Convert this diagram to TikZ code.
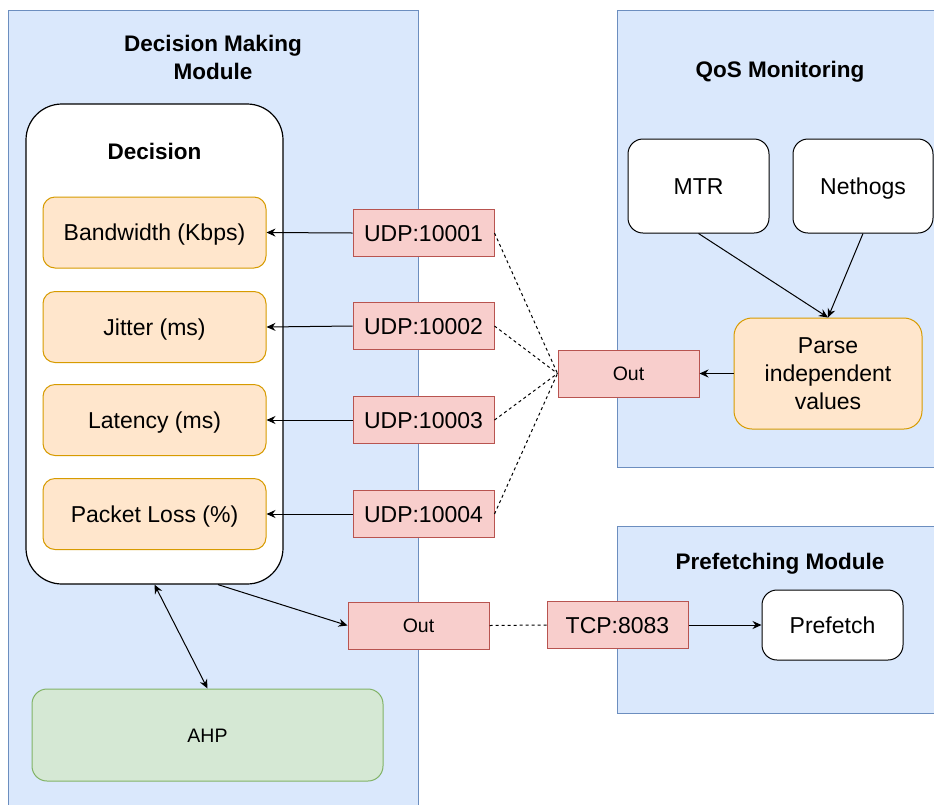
\documentclass[tikz,border=0pt]{standalone}
\usepackage{fontspec}
\setmainfont{Liberation Sans}
\usetikzlibrary{arrows.meta,calc}

\definecolor{modfill}{HTML}{DAE8FC}
\definecolor{moddraw}{HTML}{6C8EBF}
\definecolor{valfill}{HTML}{FFE6CC}
\definecolor{valdraw}{HTML}{D79B00}
\definecolor{portfill}{HTML}{F8CECC}
\definecolor{portdraw}{HTML}{B85450}
\definecolor{ahpfill}{HTML}{D5E8D4}
\definecolor{ahpdraw}{HTML}{82B366}

\tikzset{
  txt/.style={font=\fontsize{23}{28}\selectfont, inner sep=0pt, align=center},
  oneline/.style={text height=16.5pt, text depth=0pt},
  smalltxt/.style={font=\fontsize{19.5}{24}\selectfont, inner sep=0pt, align=center,
    text height=14pt, text depth=0pt},
  title/.style={font=\fontsize{22.5}{28}\selectfont\bfseries, inner sep=0pt, align=center},
  onetitle/.style={title, text height=16.1pt, text depth=0pt},
  module/.style={fill=modfill, draw=moddraw, line width=1pt},
  valbox/.style={txt, oneline, rectangle, rounded corners=12pt, fill=valfill, draw=valdraw, line width=1pt,
    minimum width=223pt, minimum height=71pt},
  portbox/.style={txt, oneline, rectangle, fill=portfill, draw=portdraw, line width=1pt,
    minimum width=141pt, minimum height=47pt},
  outbox/.style={portbox, smalltxt},
  toolbox/.style={txt, oneline, rectangle, rounded corners=15pt, fill=white, draw=black, line width=1pt},
  arr/.style={-{Stealth[length=9pt,width=8pt,inset=3pt]}, line width=1pt},
  dualarr/.style={{Stealth[length=9pt,width=8pt,inset=3pt]}-{Stealth[length=9pt,width=8pt,inset=3pt]}, line width=1pt},
  dashline/.style={line width=1pt, dash pattern=on 3pt off 3pt},
}

\begin{document}
\begin{tikzpicture}[x=1pt, y=-1pt]
  \clip (0,0) rectangle (934,804);
  \fill[white] (0,0) rectangle (934,804);

  % module containers
  \draw[module] (8,10) rectangle (418,810);
  \draw[module] (617,10) rectangle (940,467);
  \draw[module] (617,526) rectangle (940,713);

  % module titles
  \node[title] (dmtitle) at (213,57) {Decision Making\\Module};
  \node[onetitle] (qostitle) at (780,69) {QoS Monitoring};
  \node[onetitle] (pftitle) at (780,561) {Prefetching Module};

  % decision block
  \node[draw=black, fill=white, rounded corners=36pt, line width=1.2pt,
        minimum width=257pt, minimum height=480pt, inner sep=0pt] (decision) at (154.5,344) {};
  \node[onetitle] (dectitle) at (154.5,151.5) {Decision};

  \node[valbox] (bw)  at (154.5,232.5) {Bandwidth (Kbps)};
  \node[valbox] (jit) at (154.5,327)   {Jitter (ms)};
  \node[valbox] (lat) at (154.5,420)   {Latency (ms)};
  \node[valbox] (pl)  at (154.5,514)   {Packet Loss (\%)};

  % AHP block
  \node[smalltxt, rectangle, rounded corners=15pt, fill=ahpfill, draw=ahpdraw, line width=1pt,
        minimum width=351pt, minimum height=92pt] (ahp) at (207.5,735) {AHP};

  % UDP ports
  \node[portbox] (udp1) at (423.5,233) {UDP:10001};
  \node[portbox] (udp2) at (423.5,326) {UDP:10002};
  \node[portbox] (udp3) at (423.5,420) {UDP:10003};
  \node[portbox] (udp4) at (423.5,514) {UDP:10004};

  % outputs and TCP port
  \node[outbox] (out1) at (628.5,373.5) {Out};
  \node[outbox] (out2) at (418.5,625.5) {Out};
  \node[portbox] (tcp) at (617.5,625) {TCP:8083};

  % QoS tools
  \node[toolbox, minimum width=141pt, minimum height=94pt] (mtr) at (698.5,186) {MTR};
  \node[toolbox, minimum width=140pt, minimum height=94pt] (neth) at (863,186) {Nethogs};
  \node[txt, rectangle, rounded corners=18pt, fill=valfill, draw=valdraw, line width=1pt,
        minimum width=188pt, minimum height=111pt] (parse) at (828,373.5) {Parse\\independent\\values};

  % prefetch
  \node[toolbox, minimum width=141pt, minimum height=70pt] (prefetch) at (832.5,625) {Prefetch};

  % connectors
  \draw[arr] (udp1.west) -- (bw.east);
  \draw[arr] (udp2.west) -- (jit.east);
  \draw[arr] (udp3.west) -- (lat.east);
  \draw[arr] (udp4.west) -- (pl.east);

  \draw[dashline] (udp1.east) -- (out1.west);
  \draw[dashline] (udp2.east) -- (out1.west);
  \draw[dashline] (udp3.east) -- (out1.west);
  \draw[dashline] (udp4.east) -- (out1.west);

  \draw[arr] (mtr.south) -- (parse.north);
  \draw[arr] (neth.south) -- (parse.north);
  \draw[arr] (parse.west) -- (out1.east);

  \coordinate (decout) at ($(decision.south)+(63.5,0)$);
  \draw[arr] (decout) -- (out2.west);
  \draw[dualarr] (decision.south) -- (ahp.north);
  \draw[dashline] (out2.east) -- (tcp.west);
  \draw[arr] (tcp.east) -- (prefetch.west);
\end{tikzpicture}
\end{document}
